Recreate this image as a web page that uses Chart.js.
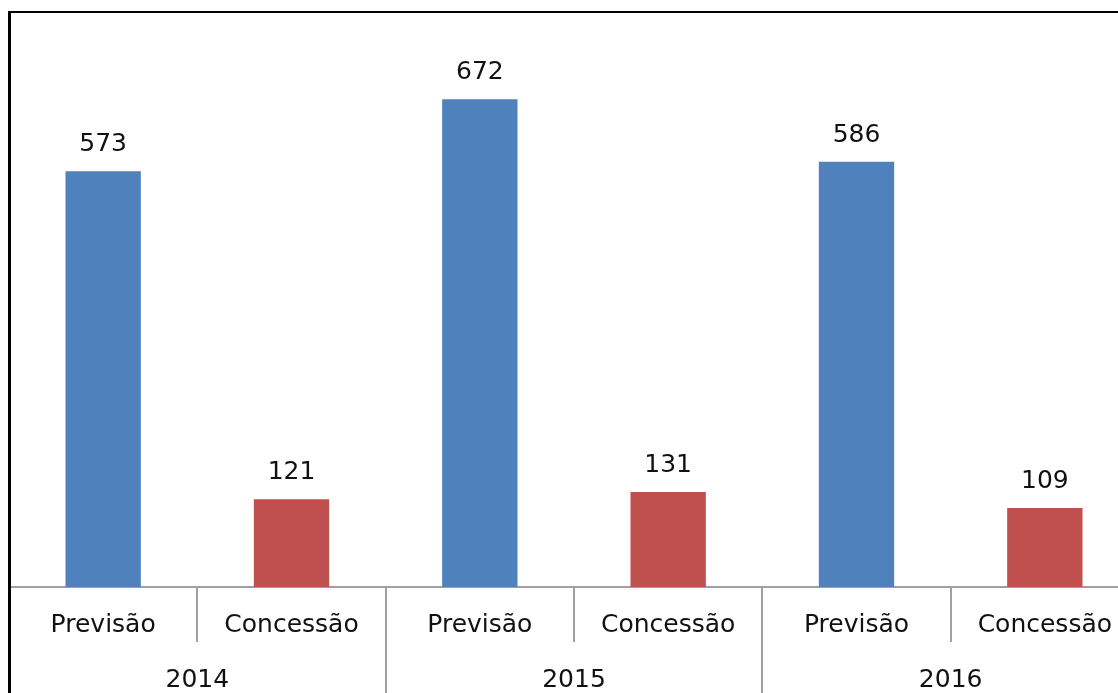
<!DOCTYPE html>
<html>
<head>
<meta charset="utf-8">
<script src="https://cdn.jsdelivr.net/npm/chart.js@4/dist/chart.umd.min.js"></script>
<style>
  html, body { margin: 0; padding: 0; background: #fff; overflow: hidden; width: 1118px; height: 693px; }
  #wrap { position: absolute; left: 0; top: 0; width: 1140px; height: 693px; }
  #frame { position: absolute; left: 8px; top: 11px; width: 1200px; height: 800px;
           border-left: 3px solid #000; border-top: 2px solid #000; pointer-events: none; }
</style>
</head>
<body>
<div id="wrap"><canvas id="c" width="1140" height="693"></canvas></div>
<div id="frame"></div>
<script>
const years = ['2014', '2015', '2016'];
const subCategories = ['Previsão', 'Concessão'];
const previsao = [573, 672, 586];
const concessao = [121, 131, 109];
const seriesColors = ['#4F81BD', '#C0504D'];

const labels = [];
const values = [];
const colors = [];
years.forEach((y, i) => {
  labels.push(subCategories[0]); values.push(previsao[i]); colors.push(seriesColors[0]);
  labels.push(subCategories[1]); values.push(concessao[i]); colors.push(seriesColors[1]);
});

const FONT = 'DejaVu Sans';
const TXT = '#111111';
const AXIS = '#a0a0a0';

const valueLabels = {
  id: 'valueLabels',
  afterDatasetsDraw(chart) {
    const ctx = chart.ctx;
    ctx.save();
    ctx.font = '25px "' + FONT + '"';
    ctx.fillStyle = TXT;
    ctx.textAlign = 'center';
    ctx.textBaseline = 'alphabetic';
    chart.getDatasetMeta(0).data.forEach((el, i) => {
      ctx.fillText(String(chart.data.datasets[0].data[i]), el.x, el.y - 20);
    });
    ctx.restore();
  }
};

new Chart(document.getElementById('c'), {
  type: 'bar',
  data: {
    labels: labels,
    datasets: [{
      data: values,
      backgroundColor: colors,
      borderWidth: 0,
      categoryPercentage: 1,
      barPercentage: 0.4
    }]
  },
  options: {
    responsive: false,
    devicePixelRatio: 1,
    animation: false,
    layout: { padding: { left: 9, right: 1, top: 21, bottom: 0 } },
    plugins: { legend: { display: false }, tooltip: { enabled: false }, title: { display: false } },
    scales: {
      y: { display: false, min: 0, max: 780 },
      x: {
        type: 'category',
        position: 'bottom',
        weight: 0,
        offset: true,
        grid: { offset: true, drawOnChartArea: false, drawTicks: true, tickLength: 55, color: AXIS, lineWidth: 2 },
        border: { display: true, color: AXIS, width: 2 },
        ticks: { autoSkip: false, maxRotation: 0, minRotation: 0, padding: -31.5,
                 font: { family: FONT, size: 25 }, color: TXT },
        afterFit(scale) { scale.height = 55; }
      },
      x2: {
        type: 'category',
        position: 'bottom',
        weight: 1,
        labels: years,
        offset: true,
        grid: { offset: true, drawOnChartArea: false, drawTicks: true, tickLength: 60, color: AXIS, lineWidth: 2 },
        border: { display: false },
        ticks: { autoSkip: false, maxRotation: 0, minRotation: 0, padding: -37,
                 font: { family: FONT, size: 25 }, color: TXT },
        afterFit(scale) { scale.height = 51; }
      }
    }
  },
  plugins: [valueLabels]
});
</script>
</body>
</html>
